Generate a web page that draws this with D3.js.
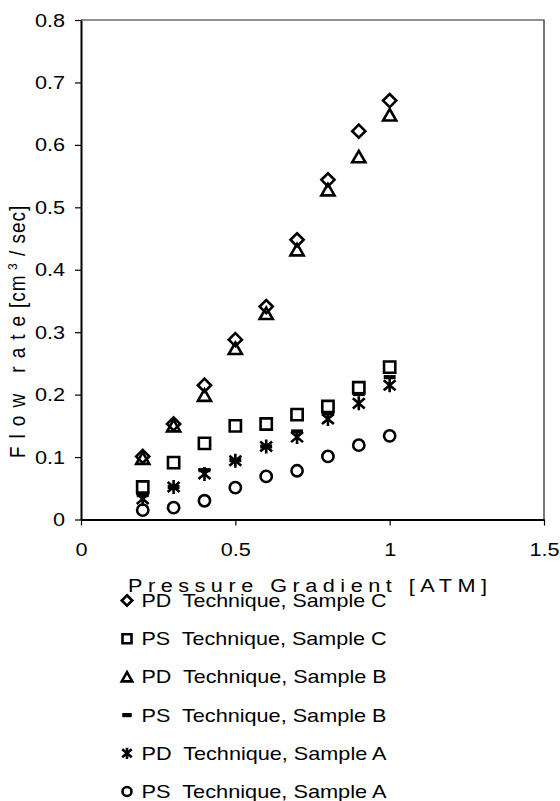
<!DOCTYPE html>
<html lang="en">
<head>
<meta charset="UTF-8">
<title>Flow rate vs Pressure Gradient</title>
<script src="https://d3js.org/d3.v7.min.js"></script>
<style>
    body { margin: 0; background: #fff; }
    svg { font-family: "Liberation Sans", Arial, sans-serif; }
    .pre { white-space: pre; }
</style>
</head>
<body>
<div id="chart"></div>
<script>
    // data
    const pressure = [0.2, 0.3, 0.4, 0.5, 0.6, 0.7, 0.8, 0.9, 1.0];
    const pdSampleC = [0.101, 0.153, 0.215, 0.288, 0.341, 0.448, 0.544, 0.622, 0.671];
    const psSampleC = [0.052, 0.091, 0.122, 0.150, 0.153, 0.168, 0.181, 0.211, 0.244];
    const pdSampleB = [0.098, 0.150, 0.199, 0.274, 0.330, 0.432, 0.528, 0.581, 0.648];
    const psSampleB = [0.039, 0.052, 0.079, 0.095, 0.117, 0.141, 0.170, 0.201, 0.228];
    const pdSampleA = [0.033, 0.052, 0.073, 0.094, 0.117, 0.132, 0.161, 0.186, 0.215];
    const psSampleA = [0.015, 0.019, 0.030, 0.051, 0.069, 0.078, 0.101, 0.119, 0.134];

    const seriesNames = ["PD  Technique, Sample C", "PS  Technique, Sample C", "PD  Technique, Sample B",
                         "PS  Technique, Sample B", "PD  Technique, Sample A", "PS  Technique, Sample A"];
    const seriesMarkers = ["diamond", "square", "triangle", "dash", "asterisk", "circle"];
    const seriesValues = [pdSampleC, psSampleC, pdSampleB, psSampleB, pdSampleA, psSampleA];

    const xTicks = [0, 0.5, 1, 1.5];
    const xTickLabels = ["0", "0.5", "1", "1.5"];
    const yTicks = [0, 0.1, 0.2, 0.3, 0.4, 0.5, 0.6, 0.7, 0.8];
    const yTickLabels = ["0", "0.1", "0.2", "0.3", "0.4", "0.5", "0.6", "0.7", "0.8"];

    const W = 560, H = 801;
    const plotLeft = 81, plotTop = 20, plotRight = 544, plotBottom = 519.5;
    const stretchX = 1.14;   // the original text is a little wide

    const svg = d3.select("#chart").append("svg")
        .attr("width", W).attr("height", H);

    const x = d3.scaleLinear().domain([0, 1.5]).range([plotLeft, plotRight]);
    const y = d3.scaleLinear().domain([0, 0.8]).range([plotBottom, plotTop]);

    // widen text glyphs horizontally
    function stretch(sel) {
        sel.each(function () {
            const len = this.getComputedTextLength();
            d3.select(this).attr("textLength", len * stretchX).attr("lengthAdjust", "spacingAndGlyphs");
        });
    }

    // marker shapes, s = nominal size
    function markerPath(type, s) {
        const h = s / 2;
        switch (type) {
            case "diamond": return `M0,${-h}L${h},0L0,${h}L${-h},0Z`;
            case "square": return `M${-h*0.9},${-h*0.9}H${h*0.9}V${h*0.9}H${-h*0.9}Z`;
            case "triangle": return `M0,${-h*0.9}L${h},${h*0.85}L${-h},${h*0.85}Z`;
            case "dash": return `M${-h},0H${h}`;
            case "asterisk": return `M0,${-h}V${h}M${-h*0.85},${-h*0.72}L${h*0.85},${h*0.72}M${-h*0.85},${h*0.72}L${h*0.85},${-h*0.72}`;
            case "circle": return `M${h*0.9},0A${h*0.9},${h*0.9} 0 1,1 ${-h*0.9},0A${h*0.9},${h*0.9} 0 1,1 ${h*0.9},0Z`;
        }
    }

    const markerScale = { diamond: 1.05, square: 1, triangle: 1.05, dash: 0.95, asterisk: 1.12, circle: 1 };

    function drawMarker(g, type, s, sw) {
        g.append("path")
            .attr("d", markerPath(type, s * markerScale[type]))
            .attr("fill", "none")
            .attr("stroke", "#000")
            .attr("stroke-width", type === "dash" ? sw * 1.6 : sw)
            .attr("stroke-linejoin", "miter");
    }

    // frame (top and right)
    svg.append("path")
        .attr("d", `M${plotLeft},${plotTop}H${plotRight}V${plotBottom}`)
        .attr("fill", "none").attr("stroke", "#222").attr("stroke-width", 1.2);

    // axes
    const yAxis = svg.append("g")
        .attr("transform", `translate(${plotLeft},0)`)
        .call(d3.axisLeft(y).tickValues(yTicks).tickFormat((d, i) => yTickLabels[i])
            .tickSize(6).tickSizeOuter(0).tickPadding(10));
    const xAxis = svg.append("g")
        .attr("transform", `translate(0,${plotBottom})`)
        .call(d3.axisBottom(x).tickValues(xTicks).tickFormat((d, i) => xTickLabels[i])
            .tickSize(6).tickSizeOuter(0).tickPadding(17));

    [yAxis, xAxis].forEach(a => {
        a.select(".domain").attr("stroke", "#000").attr("stroke-width", 2);
        a.selectAll(".tick line").attr("stroke", "#000").attr("stroke-width", 1.2);
        a.selectAll(".tick text").attr("fill", "#000").style("font-size", "19px")
            .style("font-family", "'Liberation Sans', Arial, sans-serif")
            .call(stretch);
    });

    // data points
    seriesValues.forEach((vals, si) => {
        const g = svg.append("g");
        vals.forEach((v, i) => {
            const p = g.append("g").attr("transform", `translate(${x(pressure[i])},${y(v)})`);
            drawMarker(p, seriesMarkers[si], 12.5, 2.6);
        });
    });

    // axis titles
    svg.append("text")
        .attr("transform", `translate(128,592) scale(${stretchX},1)`)
        .attr("textLength", 359 / stretchX).attr("lengthAdjust", "spacing")
        .style("font-size", "19px")
        .text("Pressure Gradient [ATM]");

    const yt = svg.append("text")
        .attr("class", "pre")
        .attr("transform", `translate(25,458) scale(${stretchX},1) rotate(-90)`)
        .style("font-size", "19px");
    yt.append("tspan").style("letter-spacing", "8px").text("Flow rate");
    yt.append("tspan").style("letter-spacing", "1px").text("[cm");
    yt.append("tspan").attr("dy", -7).style("font-size", "12px").style("letter-spacing", "1px").text(" 3");
    yt.append("tspan").attr("dy", 7).style("letter-spacing", "1px").text(" / sec]");

    // legend
    const legend = svg.append("g");
    seriesNames.forEach((name, i) => {
        const by = 607 + i * 38.2;
        const m = legend.append("g").attr("transform", `translate(127,${by - 6.5})`);
        drawMarker(m, seriesMarkers[i], 10, 2.6);
        legend.append("text")
            .attr("class", "pre")
            .attr("x", 141.5).attr("y", by)
            .style("font-size", "19px")
            .attr("textLength", 245).attr("lengthAdjust", "spacingAndGlyphs")
            .text(name);
    });
</script>
</body>
</html>
